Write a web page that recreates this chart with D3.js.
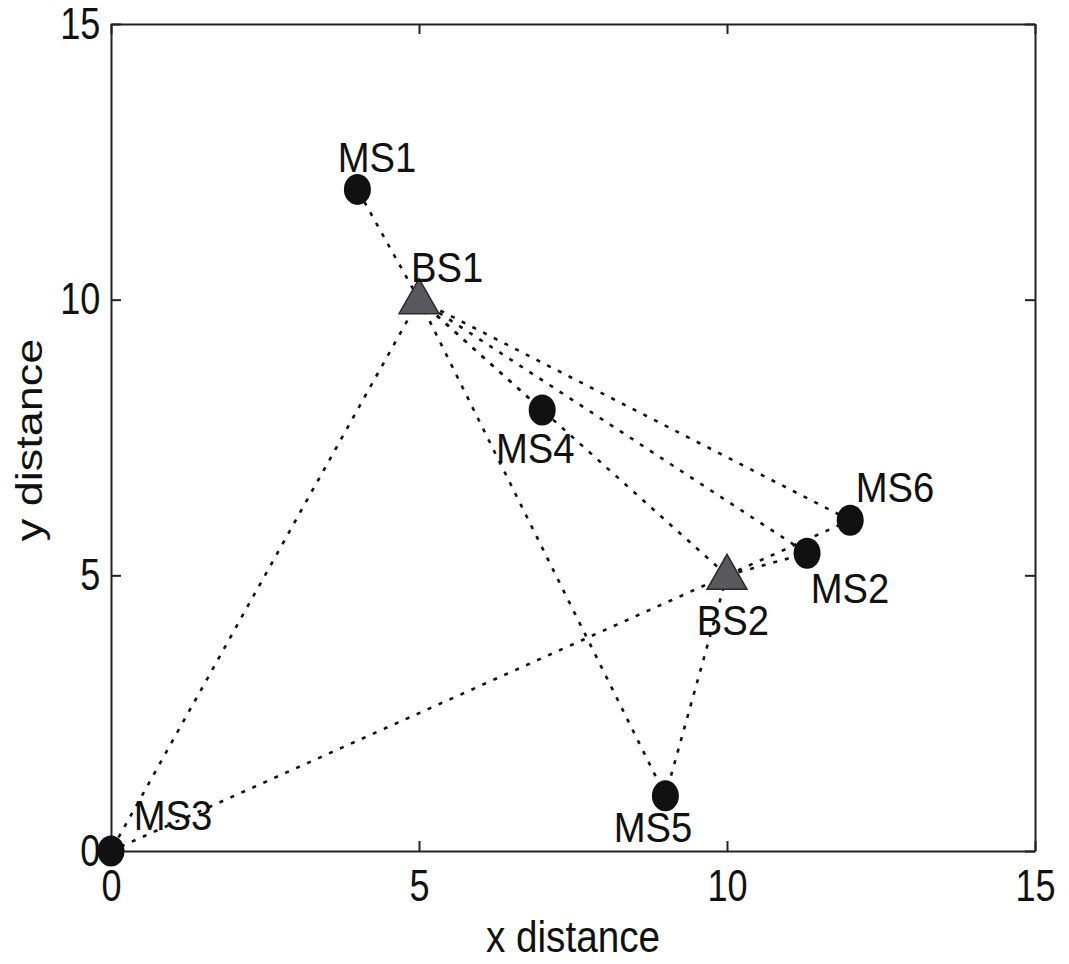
<!doctype html>
<html lang="en">
<head>
  <meta charset="utf-8">
  <title>BS / MS positions</title>
  <script type="text/javascript" src="https://cdnjs.cloudflare.com/ajax/libs/d3/7.8.5/d3.min.js"></script>
  <style>
    body { margin: 0; background: #fff; }
    text { font-family: "Liberation Sans", Arial, Helvetica, sans-serif; fill: #111; }
  </style>
</head>
<body>
  <svg width="1069" height="964" id="svg"></svg>
<script type="text/javascript">

  // stations (name, x, y)
  var msNames = ['MS1', 'MS2', 'MS3', 'MS4', 'MS5', 'MS6'];
  var msX = [4, 11.3, 0, 7, 9, 12];
  var msY = [12, 5.4, 0, 8, 1, 6];

  var bsNames = ['BS1', 'BS2'];
  var bsX = [5, 10];
  var bsY = [10, 5];

  // where each text() label sits, in data units (left edge, baseline)
  var labelNames = ['MS1', 'BS1', 'MS4', 'MS6', 'MS2', 'BS2', 'MS3', 'MS5'];
  var labelX = [3.68, 4.87, 6.25, 12.09, 11.36, 9.51, 0.37, 8.16];
  var labelY = [12.32, 10.32, 7.04, 6.33, 4.5, 3.92, 0.38, 0.16];

  // dotted links
  var links = [
    ['BS1', 'MS1'], ['BS1', 'MS3'], ['BS1', 'MS4'], ['BS1', 'MS5'],
    ['BS1', 'BS2'], ['BS1', 'MS2'], ['BS1', 'MS6'],
    ['BS2', 'MS3'], ['BS2', 'MS5'], ['BS2', 'MS2'], ['BS2', 'MS6']
  ];

  var xTicks = [0, 5, 10, 15];
  var yTicks = [0, 5, 10, 15];

  // the scanned figure is narrower than tall, text squeezed sideways
  var tickSqueeze = 0.82, labelSqueeze = 0.91, titleSqueeze = 0.86;

  var plotLeft = 111, plotRight = 1035, plotTop = 24, plotBottom = 851;

  var x = d3.scaleLinear().domain([0, 15]).range([plotLeft, plotRight]);
  var y = d3.scaleLinear().domain([0, 15]).range([plotBottom, plotTop]);

  var pos = {};
  msNames.forEach(function(n, i) { pos[n] = [msX[i], msY[i]]; });
  bsNames.forEach(function(n, i) { pos[n] = [bsX[i], bsY[i]]; });

  var svg = d3.select('#svg');

  function styleAxis(g) {
    g.select('.domain').attr('stroke', '#222').attr('stroke-width', 2);
    g.selectAll('.tick line').attr('stroke', '#222').attr('stroke-width', 2);
    g.selectAll('.tick text')
      .attr('font-size', 44)
      .attr('fill', '#111')
      .style('font-family', '"Liberation Sans", Arial, Helvetica, sans-serif');
  }

  // box with inward ticks on all four sides
  var gx = svg.append('g')
    .attr('transform', 'translate(0,' + plotBottom + ')')
    .call(d3.axisBottom(x).tickValues(xTicks).tickSize(-10).tickSizeOuter(0).tickPadding(19));
  styleAxis(gx);
  gx.selectAll('.tick text').attr('transform', 'scale(' + tickSqueeze + ',1)');

  var gy = svg.append('g')
    .attr('transform', 'translate(' + plotLeft + ',0)')
    .call(d3.axisLeft(y).tickValues(yTicks).tickSize(-10).tickSizeOuter(0).tickPadding(13));
  styleAxis(gy);
  gy.selectAll('.tick text').attr('transform', 'scale(' + tickSqueeze + ',1)');

  var gt = svg.append('g')
    .attr('transform', 'translate(0,' + plotTop + ')')
    .call(d3.axisTop(x).tickValues(xTicks).tickSize(-10).tickSizeOuter(0).tickFormat(''));
  styleAxis(gt);

  var gr = svg.append('g')
    .attr('transform', 'translate(' + plotRight + ',0)')
    .call(d3.axisRight(y).tickValues(yTicks).tickSize(-10).tickSizeOuter(0).tickFormat(''));
  styleAxis(gr);

  // dotted links
  svg.append('g').selectAll('line')
    .data(links)
    .enter().append('line')
    .attr('x1', function(d) { return x(pos[d[0]][0]); })
    .attr('y1', function(d) { return y(pos[d[0]][1]); })
    .attr('x2', function(d) { return x(pos[d[1]][0]); })
    .attr('y2', function(d) { return y(pos[d[1]][1]); })
    .attr('stroke', '#111')
    .attr('stroke-width', 2.6)
    .attr('stroke-dasharray', '4,8');

  // mobile stations
  svg.append('g').selectAll('ellipse')
    .data(msNames)
    .enter().append('ellipse')
    .attr('cx', function(d, i) { return x(msX[i]); })
    .attr('cy', function(d, i) { return y(msY[i]); })
    .attr('rx', 13.5)
    .attr('ry', 15.5)
    .attr('fill', '#111');

  // base stations
  svg.append('g').selectAll('path')
    .data(bsNames)
    .enter().append('path')
    .attr('d', function(d, i) {
      var cx = x(bsX[i]), cy = y(bsY[i]);
      return 'M' + cx + ',' + (cy - 21) + 'L' + (cx + 20) + ',' + (cy + 14) + 'L' + (cx - 20) + ',' + (cy + 14) + 'Z';
    })
    .attr('fill', '#58585e')
    .attr('stroke', '#2a2a2a')
    .attr('stroke-width', 1.5);

  // labels
  svg.append('g').selectAll('text')
    .data(labelNames)
    .enter().append('text')
    .attr('transform', function(d, i) {
      return 'translate(' + x(labelX[i]) + ',' + y(labelY[i]) + ') scale(' + labelSqueeze + ',1)';
    })
    .attr('font-size', 42)
    .text(function(d) { return d; });

  // axis titles
  svg.append('text')
    .attr('transform', 'translate(573,952) scale(' + titleSqueeze + ',1)')
    .attr('text-anchor', 'middle')
    .attr('font-size', 45)
    .text('x distance');

  svg.append('text')
    .attr('transform', 'translate(42,440) scale(' + tickSqueeze + ',1) rotate(-90)')
    .attr('text-anchor', 'middle')
    .attr('font-size', 45)
    .text('y distance');

</script>
</body>
</html>
